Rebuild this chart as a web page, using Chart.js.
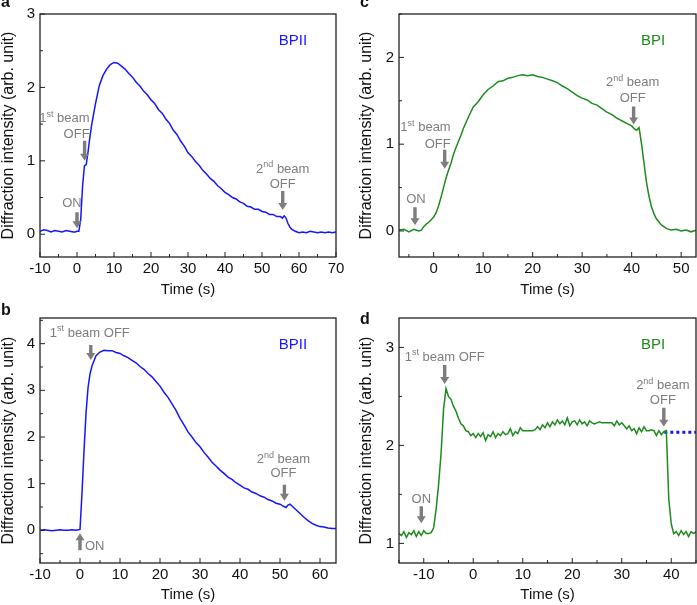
<!DOCTYPE html>
<html>
<head>
<meta charset="utf-8">
<script src="https://cdn.jsdelivr.net/npm/chart.js@4.4.0/dist/chart.umd.min.js"></script>
<style>
  body { margin: 0; background: #fff; }
  #wrap { position: relative; width: 697px; height: 605px; overflow: hidden; }
  canvas { position: absolute; }
  .tag { position: absolute; font: bold 16px "Liberation Sans", Arial, sans-serif; line-height: 16px; color: #111; }
</style>
</head>
<body>
<div id="wrap">
  <canvas id="chart-a" width="348" height="300" style="left:0;top:0"></canvas>
  <canvas id="chart-b" width="348" height="305" style="left:0;top:300px"></canvas>
  <canvas id="chart-c" width="349" height="300" style="left:348px;top:0"></canvas>
  <canvas id="chart-d" width="349" height="305" style="left:348px;top:300px"></canvas>
  <div class="tag" style="left:1px;top:-6px">a</div>
  <div class="tag" style="left:1px;top:302px">b</div>
  <div class="tag" style="left:360px;top:-6px">c</div>
  <div class="tag" style="left:360px;top:311px">d</div>
</div>
<script>
// ---- data ----

// a: BPII, two beams
const aTime = [-10,-9,-8,-7,-6,-5,-4,-3,-2,-1,-0.5,0,
  0.5,1,1.5,2,2.5,3,3.5,4,4.5,5,
  6,7,8,9,10,11,12,13,14,15,
  16,17,18,19,20,21,22,23,24,25,
  26,27,28,29,30,31,32,33,34,35,
  36,37,38,39,40,41,42,43,44,45,
  46,47,48,49,50,51,52,53,54,55,
  55.5,56,56.5,57,57.5,58,
  59,60,61,62,63,64,65,66,67,68,69,70];
const aIntensity = [0.04,0.06,0.05,0.03,0.05,0.04,0.03,0.05,0.04,0.03,0.03,0.04,
  0.04,0.20,0.65,0.93,0.95,1.13,1.33,1.50,1.64,1.78,
  2.02,2.16,2.25,2.31,2.34,2.33,2.29,2.25,2.19,2.14,
  2.07,2.02,1.95,1.90,1.83,1.78,1.70,1.65,1.57,1.51,
  1.42,1.36,1.27,1.20,1.11,1.06,0.99,0.94,0.87,0.82,
  0.76,0.72,0.66,0.62,0.57,0.54,0.50,0.48,0.44,0.42,
  0.38,0.37,0.34,0.34,0.31,0.30,0.27,0.27,0.24,0.24,
  0.22,0.25,0.22,0.15,0.10,0.07,
  0.04,0.02,0.03,0.02,0.04,0.03,0.02,0.03,0.02,0.03,0.02,0.03];
const aXTicks = [-10,0,10,20,30,40,50,60,70];
const aYTicks = [0,1,2,3];

// b: BPII
const bTime = [-10,-9,-8,-7,-6,-5,-4,-3,-2,-1,0,
  0.5,1,1.5,2,2.5,3,
  4,5,6,7,8,9,10,11,12,13,
  14,15,16,17,18,19,20,21,22,23,
  24,25,26,27,28,29,30,31,32,33,
  34,35,36,37,38,39,40,41,42,43,
  44,45,46,47,48,49,50,51,
  51.5,52,52.5,53,
  54,55,56,57,58,59,60,61,62,63,64];
const bIntensity = [0.00,0.01,0.00,-0.01,0.00,0.01,0.00,0.00,0.01,0.00,0.02,
  0.80,1.70,2.50,3.05,3.35,3.52,
  3.74,3.82,3.86,3.85,3.85,3.81,3.79,3.74,3.70,3.64,
  3.59,3.51,3.45,3.36,3.29,3.19,3.09,2.96,2.85,2.71,
  2.57,2.40,2.26,2.11,2.00,1.88,1.79,1.67,1.57,1.46,
  1.38,1.29,1.22,1.14,1.09,1.02,0.97,0.91,0.88,0.82,
  0.79,0.74,0.71,0.66,0.63,0.58,0.56,0.51,
  0.49,0.54,0.56,0.52,
  0.44,0.36,0.28,0.21,0.15,0.11,0.08,0.07,0.05,0.04,0.04];
const bXTicks = [-10,0,10,20,30,40,50,60];
const bYTicks = [0,1,2,3,4];

// c: BPI
const cTime = [-7,-6,-5,-4,-3,
  -2.5,-2,-1.5,-1,-0.5,0,0.5,1,1.5,2,2.5,3,3.5,4,4.5,5,5.5,6,
  7,8,9,10,11,12,13,14,15,16,
  17,18,19,20,21,22,23,24,25,26,
  27,28,29,30,31,32,33,34,35,36,
  37,38,39,40,
  40.5,41,41.5,42,42.5,43,43.5,44,44.5,45,
  46,47,48,49,50,51,52,53];
const cIntensity = [0.01,0.02,-0.01,0.02,0.00,
  0.01,0.05,0.08,0.10,0.13,0.16,0.21,0.29,0.39,0.50,0.61,0.70,0.78,0.88,0.96,1.03,1.10,1.18,
  1.31,1.43,1.49,1.57,1.63,1.67,1.72,1.73,1.76,1.77,
  1.79,1.80,1.79,1.80,1.78,1.77,1.75,1.73,1.71,1.67,
  1.64,1.60,1.56,1.53,1.51,1.47,1.45,1.41,1.37,1.34,
  1.30,1.27,1.24,1.21,
  1.18,1.16,1.19,1.00,0.78,0.56,0.40,0.28,0.20,0.14,
  0.07,0.03,0.01,0.02,0.00,0.01,-0.01,0.01];
const cXTicks = [0,10,20,30,40,50];
const cYTicks = [0,1,2];

// d: BPI, with the dotted level after the 2nd beam
const dTime = [-15,-14.5,-14,-13.5,-13,-12.5,-12,-11.5,-11,-10.5,
  -10,-9.5,-9,-8.5,-8,-7.5,-7,-6.5,-6,-5.5,
  -5,-4.5,-4,-3.5,-3,-2.5,-2,-1.5,-1,-0.5,
  0,0.5,1,1.5,2,2.5,3,3.5,4,4.5,
  5,5.5,6,6.5,7,7.5,8,8.5,9,9.5,
  10,10.5,11,11.5,12,12.5,13,13.5,14,14.5,
  15,15.5,16,16.5,17,17.5,18,18.5,19,19.5,
  20,20.5,21,21.5,22,22.5,23,23.5,24,24.5,
  25,25.5,26,26.5,27,27.5,28,28.5,29,29.5,
  30,30.5,31,31.5,32,32.5,33,33.5,34,34.5,
  35,35.5,36,36.5,37,37.5,38,38.5,39,39.5,
  40,40.5,41,41.5,42,42.5,43,43.5,44,44.5,
  45];
const dIntensity = [1.10,1.08,1.12,1.06,1.11,1.09,1.13,1.07,1.12,1.08,
  1.13,1.10,1.10,1.11,1.16,1.35,1.60,1.92,2.37,2.58,
  2.50,2.47,2.40,2.35,2.28,2.22,2.20,2.15,2.14,2.10,
  2.12,2.08,2.12,2.09,2.13,2.05,2.11,2.09,2.14,2.08,
  2.12,2.10,2.14,2.11,2.12,2.17,2.10,2.14,2.12,2.18,
  2.15,2.15,2.15,2.15,2.15,2.16,2.19,2.16,2.21,2.18,
  2.23,2.19,2.24,2.21,2.26,2.22,2.25,2.21,2.28,2.20,
  2.24,2.25,2.21,2.26,2.22,2.24,2.20,2.25,2.23,2.22,
  2.23,2.24,2.23,2.23,2.23,2.23,2.23,2.20,2.25,2.21,
  2.23,2.20,2.17,2.20,2.15,2.17,2.12,2.18,2.14,2.19,
  2.15,2.15,2.16,2.15,2.10,2.15,2.11,2.14,2.15,1.45,
  1.20,1.10,1.12,1.08,1.13,1.09,1.12,1.07,1.12,1.10,
  1.12];
const dLevelTime = [38.6, 45];
const dLevelValue = [2.134, 2.134];
const dXTicks = [-10,0,10,20,30,40];
const dYTicks = [1,2,3];

// ---- styling ----
const FONT = '"Liberation Sans", Arial, sans-serif';
const BLUE = '#1515ff';
const GREEN = '#1d8b1d';
const GRAY = '#7d7d7d';
const INK = '#111';

// arrows + labels, tip given in data units
const aNotes = [
  { x: 0, y: 0.08, len: 16, dir: 'down', lines: [{ t: 'ON', dx: -5, dy: -25 }] },
  { x: 2.05, y: 1.0, len: 20, dir: 'down', lines: [
    { t: '1{st} beam', dx: 5, dy: -42, align: 'right' },
    { t: 'OFF', dx: 5, dy: -26, align: 'right' }] },
  { x: 55.6, y: 0.33, len: 19, dir: 'down', lines: [
    { t: '2{nd} beam', dx: 0, dy: -41 }, { t: 'OFF', dx: 0, dy: -26 }] }
];
const bNotes = [
  { x: 2.7, y: 3.65, len: 15, dir: 'down', lines: [{ t: '1{st} beam OFF', dx: -1, dy: -27 }] },
  { x: 0, y: -0.06, len: 17, dir: 'up', lines: [{ t: 'ON', dx: 5, dy: 13, align: 'left' }] },
  { x: 51.1, y: 0.635, len: 16, dir: 'down', lines: [
    { t: '2{nd} beam', dx: -1, dy: -41 }, { t: 'OFF', dx: -1, dy: -27 }] }
];
const cNotes = [
  { x: -3.77, y: 0.067, len: 18, dir: 'down', lines: [{ t: 'ON', dx: 1, dy: -26 }] },
  { x: 2.23, y: 0.718, len: 19, dir: 'down', lines: [
    { t: '1{st} beam', dx: 6, dy: -41, align: 'right' },
    { t: 'OFF', dx: 6, dy: -24, align: 'right' }] },
  { x: 40.4, y: 1.226, len: 18, dir: 'down', lines: [
    { t: '2{nd} beam', dx: -1, dy: -42 }, { t: 'OFF', dx: -1, dy: -26 }] }
];
const dNotes = [
  { x: -10.5, y: 1.205, len: 17, dir: 'down', lines: [{ t: 'ON', dx: 0, dy: -24 }] },
  { x: -5.77, y: 2.627, len: 19, dir: 'down', lines: [{ t: '1{st} beam OFF', dx: 0, dy: -27 }] },
  { x: 38.5, y: 2.19, len: 19, dir: 'down', lines: [
    { t: '2{nd} beam', dx: -1, dy: -41 }, { t: 'OFF', dx: -1, dy: -26 }] }
];

// text with {superscript} parts
function drawRich(ctx, text, x, y, align) {
  const parts = text.split(/(\{[^}]*\})/).filter(Boolean)
    .map(s => s[0] === '{' ? { s: s.slice(1, -1), sup: true } : { s: s, sup: false });
  const fontFor = sup => (sup ? '9px ' : '13px ') + FONT;
  let w = 0;
  parts.forEach(p => { ctx.font = fontFor(p.sup); p.w = ctx.measureText(p.s).width; w += p.w; });
  let cx = align === 'left' ? x : align === 'right' ? x - w : x - w / 2;
  ctx.textAlign = 'left';
  ctx.textBaseline = 'middle';
  parts.forEach(p => {
    ctx.font = fontFor(p.sup);
    ctx.fillText(p.s, cx, p.sup ? y - 4 : y);
    cx += p.w;
  });
}

function drawArrow(ctx, x, tipY, len, dir) {
  const s = dir === 'up' ? -1 : 1;
  const head = 7, hw = 4.5, sw = 1.7;
  const baseY = tipY - s * head;
  const tailY = tipY - s * len;
  ctx.beginPath();
  ctx.moveTo(x - sw, tailY);
  ctx.lineTo(x + sw, tailY);
  ctx.lineTo(x + sw, baseY);
  ctx.lineTo(x + hw, baseY);
  ctx.lineTo(x, tipY);
  ctx.lineTo(x - hw, baseY);
  ctx.lineTo(x - sw, baseY);
  ctx.closePath();
  ctx.fill();
}

// major ticks from the scale, minor ticks half way between
function tickMarks(scale) {
  const majors = scale.ticks.map(t => t.value);
  const half = (majors[1] - majors[0]) / 2;
  let v = majors[0];
  while (v - half >= scale.min - 1e-9) v -= half;
  const out = [];
  for (; v <= scale.max + 1e-9; v += half) {
    const isMajor = majors.some(m => Math.abs(m - v) < 1e-9);
    out.push([v, isMajor]);
  }
  return out;
}

function panelPlugin(p) {
  return {
    id: 'panelDeco',
    afterDraw(chart) {
      const { ctx, chartArea: a, scales: { x, y } } = chart;
      ctx.save();
      // frame + inward ticks
      ctx.strokeStyle = '#222';
      ctx.lineWidth = 1.3;
      ctx.strokeRect(a.left, a.top, a.right - a.left, a.bottom - a.top);
      ctx.lineWidth = 1;
      ctx.beginPath();
      tickMarks(x).forEach(([v, major]) => {
        const px = x.getPixelForValue(v);
        ctx.moveTo(px, a.bottom);
        ctx.lineTo(px, a.bottom - (major ? 5 : 3));
      });
      tickMarks(y).forEach(([v, major]) => {
        const py = y.getPixelForValue(v);
        ctx.moveTo(a.left, py);
        ctx.lineTo(a.left + (major ? 5 : 3), py);
      });
      ctx.stroke();

      // arrows and beam labels
      ctx.fillStyle = GRAY;
      p.notes.forEach(n => {
        const px = x.getPixelForValue(n.x);
        const py = y.getPixelForValue(n.y);
        drawArrow(ctx, px, py, n.len, n.dir);
        n.lines.forEach(l => drawRich(ctx, l.t, px + l.dx, py + l.dy, l.align || 'center'));
      });

      // sample name
      ctx.fillStyle = p.color;
      ctx.font = '15px ' + FONT;
      ctx.textAlign = 'center';
      ctx.textBaseline = 'middle';
      ctx.fillText(p.name, a.right - 43, a.top + 27);
      ctx.restore();
    }
  };
}

function makePanel(p) {
  const datasets = [{
    data: p.time.map((t, i) => ({ x: t, y: p.values[i] })),
    borderColor: p.color,
    borderWidth: 1.5,
    pointRadius: 0,
    tension: 0
  }];
  if (p.levelTime) {
    datasets.push({
      data: p.levelTime.map((t, i) => ({ x: t, y: p.levelValue[i] })),
      borderColor: BLUE,
      borderWidth: 3,
      borderDash: [3, 3],
      pointRadius: 0
    });
  }
  const axisFont = { family: FONT, size: 15 };
  const yTitleFont = { family: FONT, size: 16 };
  new Chart(document.getElementById(p.id), {
    type: 'line',
    data: { datasets },
    options: {
      responsive: false,
      animation: false,
      devicePixelRatio: 1,
      layout: { padding: { top: p.pad.top, right: p.pad.right, left: p.pad.left, bottom: 0 } },
      plugins: { legend: { display: false }, tooltip: { enabled: false } },
      scales: {
        x: {
          type: 'linear',
          min: p.xRange[0], max: p.xRange[1],
          grid: { display: false, drawTicks: false },
          border: { display: false },
          afterBuildTicks: s => { s.ticks = p.xTicks.map(v => ({ value: v })); },
          afterFit: s => { s.height = p.xHeight; },
          ticks: { color: INK, font: axisFont, padding: 3, autoSkip: false, maxRotation: 0 },
          title: { display: true, text: 'Time (s)', color: INK, font: axisFont,
                   padding: { top: 0, bottom: p.titlePad } }
        },
        y: {
          min: p.yRange[0], max: p.yRange[1],
          grid: { display: false, drawTicks: false },
          border: { display: false },
          afterBuildTicks: s => { s.ticks = p.yTicks.map(v => ({ value: v })); },
          afterFit: s => { s.width = p.yWidth; },
          ticks: { color: INK, font: axisFont, padding: 5, autoSkip: false },
          title: { display: true, text: 'Diffraction intensity (arb. unit)', color: INK, font: yTitleFont,
                   padding: { top: -1, bottom: 0 } }
        }
      }
    },
    plugins: [panelPlugin(p)]
  });
}

document.addEventListener('DOMContentLoaded', () => {
  makePanel({ id: 'chart-a', time: aTime, values: aIntensity, color: BLUE, name: 'BPII',
    xRange: [-10, 70], yRange: [-0.31, 3], xTicks: aXTicks, yTicks: aYTicks,
    pad: { top: 14, right: 12, left: 0 }, yWidth: 40, xHeight: 43, titlePad: 1, notes: aNotes });
  makePanel({ id: 'chart-b', time: bTime, values: bIntensity, color: BLUE, name: 'BPII',
    xRange: [-10, 64], yRange: [-0.7, 4.55], xTicks: bXTicks, yTicks: bYTicks,
    pad: { top: 18, right: 12, left: 0 }, yWidth: 40, xHeight: 42, titlePad: 1.5, notes: bNotes });
  makePanel({ id: 'chart-c', time: cTime, values: cIntensity, color: GREEN, name: 'BPI',
    xRange: [-7, 53], yRange: [-0.3, 2.5], xTicks: cXTicks, yTicks: cYTicks,
    pad: { top: 13, right: 1, left: 10 }, yWidth: 41, xHeight: 43, titlePad: 1, notes: cNotes });
  makePanel({ id: 'chart-d', time: dTime, values: dIntensity, color: GREEN, name: 'BPI',
    xRange: [-15, 45], yRange: [0.8, 3.3], xTicks: dXTicks, yTicks: dYTicks,
    pad: { top: 18, right: 1, left: 10 }, yWidth: 41, xHeight: 42, titlePad: 1.5, notes: dNotes,
    levelTime: dLevelTime, levelValue: dLevelValue });
});
</script>
</body>
</html>
